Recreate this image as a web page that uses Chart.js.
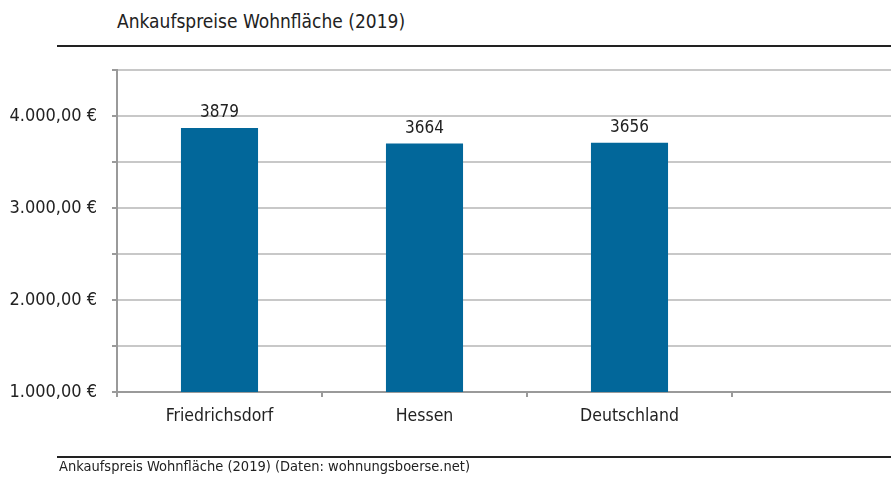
<!DOCTYPE html>
<html>
<head>
<meta charset="utf-8">
<script src="https://cdn.jsdelivr.net/npm/chart.js@4/dist/chart.umd.min.js"></script>
<style>
    body { margin: 0; width: 891px; height: 477px; overflow: hidden; background: #fff; position: relative;
           font-family: 'DejaVu Sans Condensed', sans-serif; color: #222; }
    #wrap { position: absolute; left: 0; top: 0; width: 940px; height: 477px; }
    .title { position: absolute; left: 117px; top: 10px; font-size: 19px; }
    .rule { position: absolute; left: 57px; width: 834px; height: 2px; background: #222; }
    .caption { position: absolute; left: 59px; top: 458px; font-size: 14.5px; }
</style>
</head>
<body>
<div class="title">Ankaufspreise Wohnfläche (2019)</div>
<div class="rule" style="top:45px"></div>
<div id="wrap"><canvas id="chart"></canvas></div>
<div class="rule" style="top:456px; height:1.5px"></div>
<div class="caption">Ankaufspreis Wohnfläche (2019) (Daten: wohnungsboerse.net)</div>
<script>
// Kategorien (die vierte bleibt leer, wie im Original)
const categories = ['Friedrichsdorf', 'Hessen', 'Deutschland', ''];
// Balkenhöhen
const barValues = [3870, 3700, 3710, null];
// Beschriftungen über den Balken
const valueLabels = ['3879', '3664', '3656', ''];
// Y-Achse
const yTicks = [1000, 2000, 3000, 4000];
const yTickLabels = ['1.000,00 €', '2.000,00 €', '3.000,00 €', '4.000,00 €'];

const FONT = "'DejaVu Sans Condensed', sans-serif";

const valueLabelPlugin = {
    id: 'valueLabels',
    afterDatasetsDraw(chart) {
        const ctx = chart.ctx;
        const meta = chart.getDatasetMeta(0);
        ctx.save();
        ctx.font = '17px ' + FONT;
        ctx.fillStyle = '#222';
        ctx.textAlign = 'center';
        ctx.textBaseline = 'bottom';
        meta.data.forEach((bar, i) => {
            if (!valueLabels[i]) return;
            ctx.fillText(valueLabels[i], bar.x, bar.y - 7);
        });
        ctx.restore();
    }
};

const ctx = document.getElementById('chart').getContext('2d');
const chart = new Chart(ctx, {
    type: 'bar',
    data: {
        labels: categories,
        datasets: [{
            data: barValues,
            backgroundColor: '#02679a',
            borderWidth: 0,
            barPercentage: 0.376,
            categoryPercentage: 1
        }]
    },
    options: {
        responsive: true,
        maintainAspectRatio: false,
        animation: false,
        layout: { padding: { top: 70, right: 3, bottom: 45, left: 0 } },
        plugins: {
            legend: { display: false },
            tooltip: { enabled: false }
        },
        scales: {
            y: {
                min: 1000,
                max: 4500,
                ticks: {
                    stepSize: 500,
                    padding: 15,
                    color: '#222',
                    font: { family: FONT, size: 18 },
                    callback: (value) => {
                        const i = yTicks.indexOf(value);
                        return i >= 0 ? yTickLabels[i] : '';
                    }
                },
                grid: {
                    color: '#c8c8c8',
                    lineWidth: 2,
                    tickColor: '#9a9a9a',
                    tickLength: 5
                },
                border: { color: '#9a9a9a', width: 2 },
                afterFit: (scale) => { scale.width = 117; }
            },
            x: {
                ticks: {
                    padding: 9,
                    color: '#222',
                    font: { family: FONT, size: 17.5 }
                },
                grid: {
                    offset: true,
                    drawOnChartArea: false,
                    tickColor: '#9a9a9a',
                    tickLength: 5,
                    lineWidth: 2
                },
                border: { color: '#9a9a9a', width: 2 },
                afterFit: (scale) => { scale.height = 40; }
            }
        }
    },
    plugins: [valueLabelPlugin]
});
</script>
</body>
</html>
